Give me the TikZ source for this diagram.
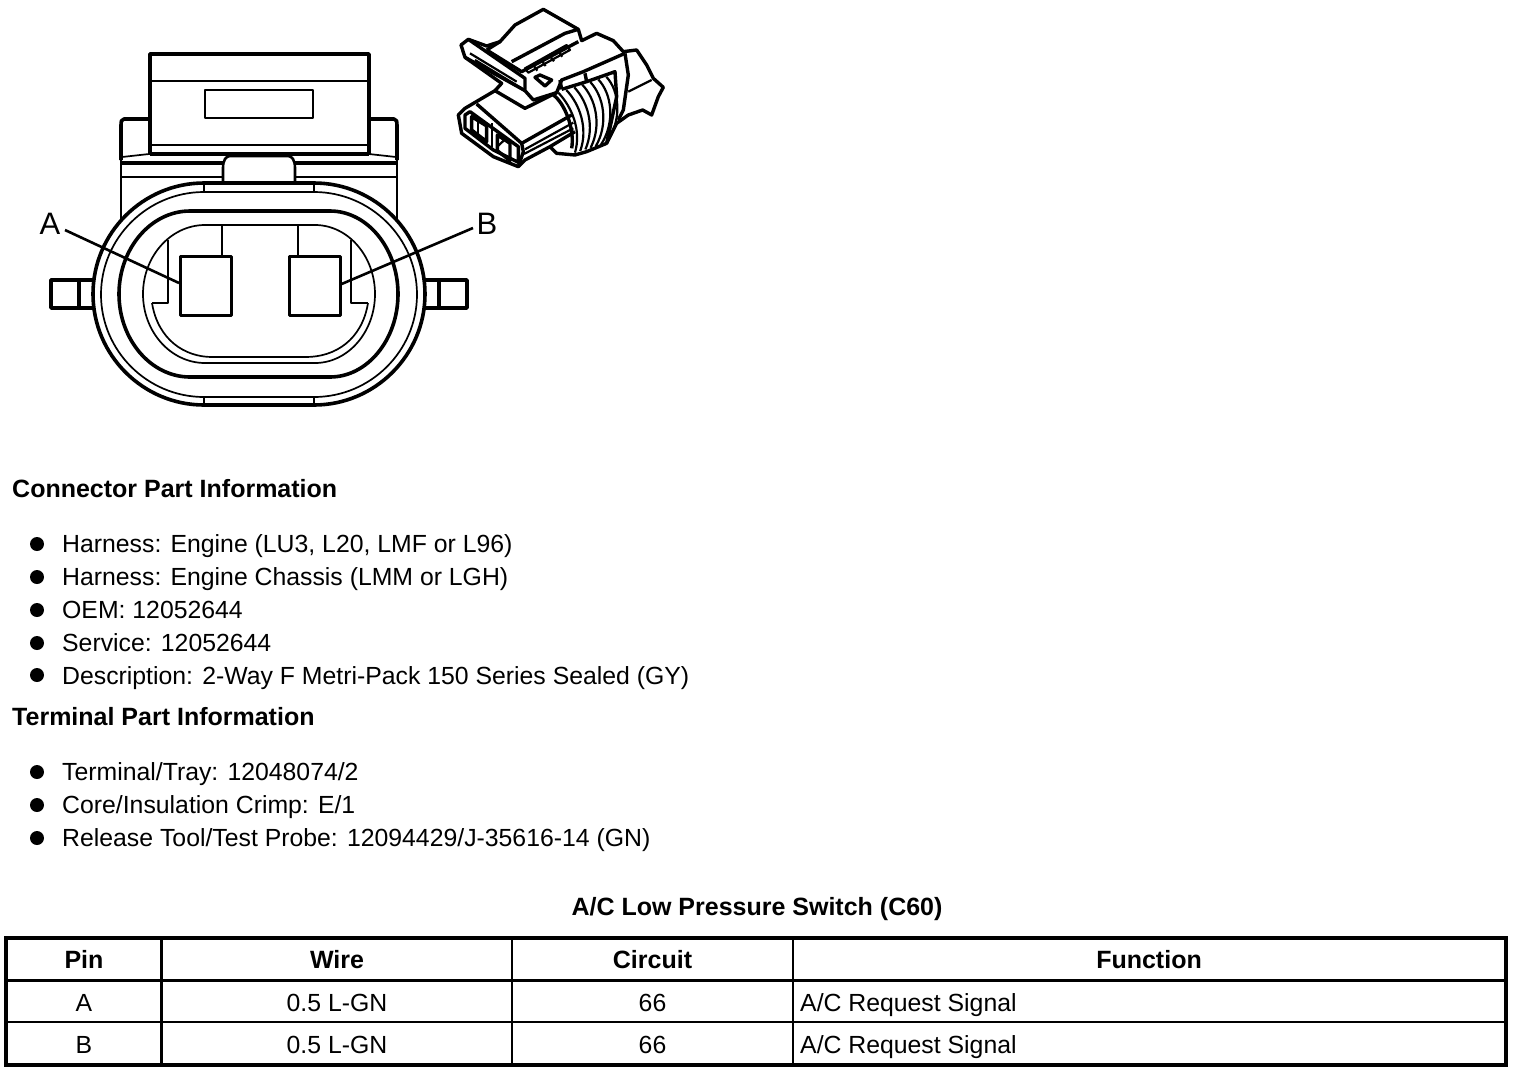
\documentclass[tikz,border=0pt]{standalone}
\usepackage{fontspec}
\setmainfont{Liberation Sans}
\newcommand{\ovalpath}[6]{% xl xr yt yb flatl flatr
  (#5,#3) -- (#6,#3)
  .. controls ({#6+0.55*(#2-#6)},#3) and (#2,{(#3+#4)/2-0.55*(#4-#3)/2}) .. (#2,{(#3+#4)/2})
  .. controls (#2,{(#3+#4)/2+0.55*(#4-#3)/2}) and ({#6+0.55*(#2-#6)},#4) .. (#6,#4)
  -- (#5,#4)
  .. controls ({#5-0.55*(#5-#1)},#4) and (#1,{(#3+#4)/2+0.55*(#4-#3)/2}) .. (#1,{(#3+#4)/2})
  .. controls (#1,{(#3+#4)/2-0.55*(#4-#3)/2}) and ({#5-0.55*(#5-#1)},#3) .. (#5,#3) -- cycle}
\tikzset{
  heavy/.style={line width=3.6pt,line join=round},
  medium/.style={line width=2.6pt,line join=round},
  light/.style={line width=1.7pt,line join=round},
  callout/.style={font=\fontsize{31}{31}\selectfont,inner sep=0pt},
  terminal/.style={draw,medium,fill=white,minimum width=51pt,minimum height=59pt,inner sep=0pt},
  txt/.style={font=\fontsize{24.8}{28}\selectfont,anchor=base west,inner sep=0pt},
  hd/.style={font=\bfseries\fontsize{25}{28}\selectfont,anchor=base west,inner sep=0pt},
  cell/.style={font=\fontsize{24.8}{28}\selectfont,anchor=base,inner sep=0pt},
  cellh/.style={font=\bfseries\fontsize{25}{28}\selectfont,anchor=base,inner sep=0pt},
  dot/.style={circle,fill=black,minimum size=14pt,inner sep=0pt},
}
\begin{document}
\begin{tikzpicture}[x=1pt,y=-1pt]
\useasboundingbox (0,0) rectangle (1520,1072);
% --- rear housing
\draw[heavy] (150,155) -- (150,54) -- (369,54) -- (369,155);
\draw[medium] (150,81) -- (369,81);
\draw[medium] (205,90) rectangle (313,118);
\draw[light] (150,145) -- (369,145);
\draw[heavy] (150,154) -- (369,154);
\draw[heavy] (149,119) -- (124,119) .. controls (121,119) and (121,122) .. (121,125) -- (121,160) ;
\draw[heavy] (369,119) -- (394,119) .. controls (397,119) and (397,122) .. (397,125) -- (397,160);
\draw[heavy] (122,163) -- (223,163);
\draw[heavy] (295,163) -- (396,163);
\draw[light] (122,177) -- (223,177);
\draw[light] (295,177) -- (396,177);
\draw[medium] (121,160) -- (121,228);
\draw[medium] (397,160) -- (397,228);
\draw[light] (122,157) -- (149,154);
\draw[light] (396,157) -- (369,154);
\draw[medium] (223,183) -- (223,168) .. controls (223,160) and (226,156) .. (230,156) -- (288,156) .. controls (292,156) and (295,160) .. (295,168) -- (295,183);
% --- side pins
\draw[heavy] (93,280) -- (51,280) -- (51,308) -- (93,308);
\draw[heavy] (79,280) -- (79,308);
\draw[heavy] (425,280) -- (467,280) -- (467,308) -- (425,308);
\draw[heavy] (439,280) -- (439,308);
% --- oval rings
\draw[heavy,fill=white] \ovalpath{93}{425}{183}{405}{204}{314};
\draw[light] \ovalpath{101}{417}{192}{397}{204}{314};
\draw[heavy] \ovalpath{119}{398}{211}{377}{190}{330};
\draw[light] \ovalpath{143}{375}{225}{363}{205}{315};
\draw[line width=2.6pt] (205,363) -- (315,363);
% keyed inner wall
\draw[light] (152,303) .. controls (158,340) and (185,357) .. (212,357) -- (306,357) .. controls (335,357) and (362,340) .. (368,303);
\draw[medium] (152,303) -- (168,303) -- (168,240);
\draw[light] (368,303) -- (351,303) -- (351,240);
% notches
\draw[light] (204,183) -- (204,192);
\draw[light] (314,183) -- (314,192);
\draw[light] (204,397) -- (204,405);
\draw[light] (314,397) -- (314,405);
% --- terminals
\node[terminal,anchor=north west] (termA) at (179,255) {};
\node[terminal,anchor=north west] (termB) at (288,255) {};
\coordinate (ringA) at (222,225);
\coordinate (ringB) at (298,225);
\draw[medium] (ringA) -- (ringA |- termA.north);
\draw[medium] (ringB) -- (ringB |- termB.north);
% --- callouts
\node[callout] (labA) at (50,224) {A};
\node[callout] (labB) at (487,224) {B};
\coordinate (tipA) at (termA.west |- 0,283);
\coordinate (tipB) at (termB.east |- 0,284);
\coordinate (startA) at (65,230);
\coordinate (startB) at (473,228);
\draw[medium] (startA) -- (tipA);
\draw[medium] (startB) -- (tipB);
% --- perspective thumbnail (zoom units, 3 per pixel)
\begin{scope}[shift={(450,0)},x=0.3333pt,y=-0.3333pt,line join=round]
\tikzset{tk/.style={line width=3.4pt},tn/.style={line width=2.2pt}}
% silhouette
\draw[tk,fill=white] (25,345) -- (45,325) -- (135,272) -- (155,250) -- (45,172) -- (33,135) -- (55,118) -- (110,138) -- (150,125) -- (195,75) -- (280,28) -- (385,88) -- (395,122) -- (440,100) -- (490,122) -- (520,155) -- (560,150) -- (590,195) -- (610,235) -- (640,262) -- (625,290) -- (605,345) -- (578,330) -- (535,345) -- (500,370) -- (470,430) -- (410,455) -- (375,465) -- (320,460) -- (300,440) -- (225,480) -- (205,500) -- (130,470) -- (35,400) -- cycle;
% lever
\draw[tk] (55,118) -- (225,235) -- (225,272) -- (250,300) -- (320,278) -- (335,240) -- (400,215) -- (525,160);
\draw[tk] (45,172) -- (225,272);
\draw[tn] (60,160) -- (200,245);
\draw[tn] (75,180) -- (215,265);
\draw[tk] (110,150) -- (150,125);
\draw[tk] (110,150) -- (215,215) -- (385,125);
\draw[tk] (185,185) -- (345,100) -- (385,88);
\draw[tn] (225,205) -- (350,135) -- (360,150) -- (235,218) -- cycle;
\draw[tn] (250,195) -- (262,212);
\draw[tn] (275,182) -- (287,198);
\draw[tn] (300,168) -- (312,184);
\draw[tn] (325,155) -- (337,170);
\draw[tk] (255,232) -- (270,225) -- (305,240) -- (285,258) -- cycle;
% rear shell
\draw[tk] (525,160) -- (535,225) -- (520,330) -- (505,360);
\draw[tn] (535,275) -- (605,240);
\draw[tk] (330,240) -- (335,268);
\draw[tk] (405,220) -- (410,245);
\draw[tk] (335,268) -- (410,245) -- (495,215) -- (500,290) -- (470,430);
% coil
\foreach \d in {0,24,48,72,96,120,144} {
  \draw[tn] (325+\d,278-0.33*\d) .. controls (365+\d,320-0.33*\d) and (395+0.85*\d,390-0.2*\d) .. (375+0.65*\d,458-0.2*\d);
}
\draw[tk] (310,285) .. controls (345,310) and (375,390) .. (365,445);
% body
\draw[tk] (80,312) -- (215,430) -- (220,455) -- (205,500);
\draw[tk] (215,430) -- (365,345);
\draw[tn] (225,448) -- (370,368);
\draw[tn] (222,462) -- (370,385);
\draw[tk] (135,272) -- (225,325) -- (320,278);
\draw[tk] (300,440) -- (375,395);
% face
\draw[tk] (45,345) -- (60,335) -- (205,440) -- (205,487) -- (130,450) -- (45,385) -- cycle;
\draw[tk] (65,350) -- (110,378) -- (110,425) -- (65,390) -- cycle;
\draw[tk] (142,405) -- (180,430) -- (180,482) -- (142,452) -- cycle;
\draw[tn] (85,362) -- (85,405);
\draw[tn] (142,440) -- (165,418);
\draw[tn] (125,370) -- (125,440);
\end{scope}
% --- text
\node[hd] (h1) at (12,497) {Connector Part Information};
\node[dot] (b1) at (37,544) {}; \node[txt] (t1) at (62,552) {Harness: Engine (LU3, L20, LMF or L96)};
\node[dot] (b2) at (37,577) {}; \node[txt] (t2) at (62,585) {Harness: Engine Chassis (LMM or LGH)};
\node[dot] (b3) at (37,610) {}; \node[txt] (t3) at (62,618) {OEM: 12052644};
\node[dot] (b4) at (37,643) {}; \node[txt] (t4) at (62,651) {Service: 12052644};
\node[dot] (b5) at (37,675) {}; \node[txt] (t5) at (62,684) {Description: 2-Way F Metri-Pack 150 Series Sealed (GY)};
\node[hd] (h2) at (12,725) {Terminal Part Information};
\node[dot] (b6) at (37,772) {}; \node[txt] (t6) at (62,780) {Terminal/Tray: 12048074/2};
\node[dot] (b7) at (37,805) {}; \node[txt] (t7) at (62,813) {Core/Insulation Crimp: E/1};
\node[dot] (b8) at (37,838) {}; \node[txt] (t8) at (62,846) {Release Tool/Test Probe: 12094429/J-35616-14 (GN)};
\node[cellh] (title) at (757,915) {A/C Low Pressure Switch (C60)};
% --- table
\draw[line width=3.4pt] (6,938) rectangle (1506,1065);
\draw[line width=3pt] (6,980) -- (1506,980);
\draw[line width=1.6pt] (6,1022) -- (1506,1022);
\draw[line width=2.2pt] (161.5,938) -- (161.5,1065);
\draw[line width=2.2pt] (512,938) -- (512,1065);
\draw[line width=2.2pt] (793,938) -- (793,1065);
\node[cellh] (c11) at (84,968) {Pin};
\node[cellh] (c12) at (337,968) {Wire};
\node[cellh] (c13) at (652.5,968) {Circuit};
\node[cellh] (c14) at (1149,968) {Function};
\node[cell] (c21) at (84,1011) {A};
\node[cell] (c22) at (337,1011) {0.5 L-GN};
\node[cell] (c23) at (652.5,1011) {66};
\node[txt] (c24) at (800,1011) {A/C Request Signal};
\node[cell] (c31) at (84,1053) {B};
\node[cell] (c32) at (337,1053) {0.5 L-GN};
\node[cell] (c33) at (652.5,1053) {66};
\node[txt] (c34) at (800,1053) {A/C Request Signal};
\end{tikzpicture}
\end{document}
